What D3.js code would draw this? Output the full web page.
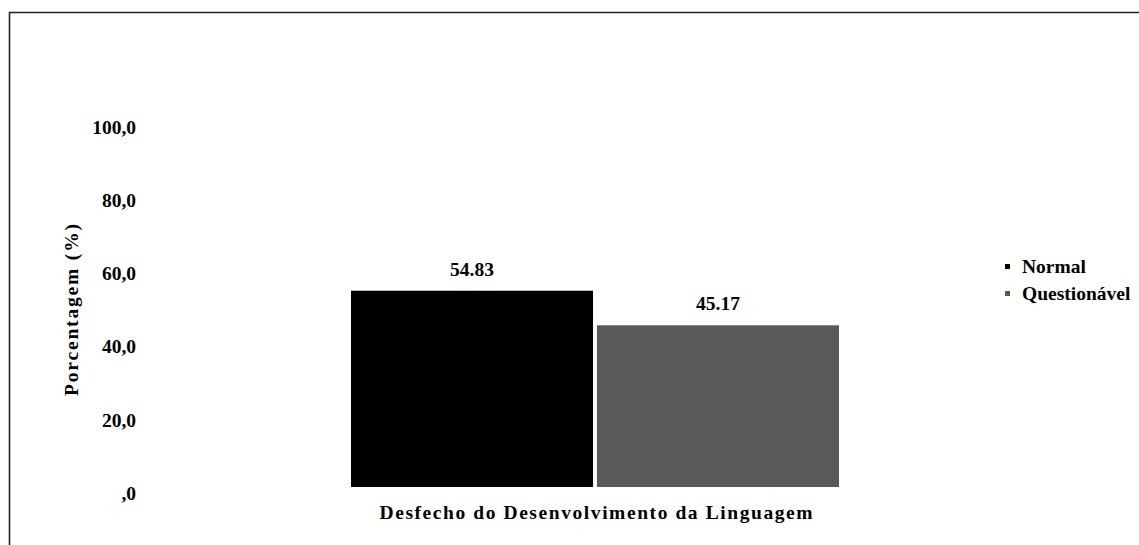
<!DOCTYPE html>
<html>
<head>
<meta charset="utf-8">
<script src="https://cdn.jsdelivr.net/npm/d3@7"></script>
<style>
  body { margin: 0; background: #fff; }
  text { font-family: "Liberation Serif", "Times New Roman", serif; font-weight: bold; fill: #000; }
</style>
</head>
<body>
<script>
const seriesNames = ["Normal", "Questionável"];
const seriesValues = [54.83, 45.17];
const seriesColors = ["#000000", "#595959"];
const yTicks = [0, 20, 40, 60, 80, 100];
const categoryLabel = "Desfecho do Desenvolvimento da Linguagem";
const yTitle = "Porcentagem (%)";

const w = 1139, h = 545;
const fs = 19.5;
const svg = d3.select("body").append("svg").attr("width", w).attr("height", h);

// frame (only top and left edges visible, chart is cropped)
svg.append("path")
    .attr("d", "M9.5," + h + " V12.5 H" + w)
    .attr("fill", "none").attr("stroke", "#222").attr("stroke-width", 1.6);

var yScale = d3.scaleLinear().domain([0, 100]).range([487, 129]);
var xScale = d3.scaleBand().domain(seriesNames).range([351, 839]).paddingInner(0.016);

var yAxis = d3.axisLeft(yScale).tickValues(yTicks).tickSize(0).tickPadding(0)
    .tickFormat(d => d === 0 ? ",0" : d3.format(".1f")(d).replace(".", ","));
var gy = svg.append("g").attr("transform", "translate(136,0)").call(yAxis);
gy.select(".domain").remove();
gy.selectAll("text").attr("font-size", fs).attr("font-family", null).attr("dy", "0.32em")
    .attr("transform", (d, i) => "translate(0," + (6 - i * 1.6) + ")");

svg.append("text")
    .attr("transform", "translate(78,310) rotate(-90)")
    .attr("text-anchor", "middle").attr("font-size", fs)
    .attr("textLength", 172).attr("lengthAdjust", "spacing")
    .text(yTitle);

svg.selectAll("rect.bar")
    .data(seriesValues)
    .enter().append("rect")
    .attr("class", "bar")
    .attr("x", (d, i) => xScale(seriesNames[i]))
    .attr("y", d => yScale(d))
    .attr("width", xScale.bandwidth())
    .attr("height", d => yScale(0) - yScale(d))
    .attr("fill", (d, i) => seriesColors[i]);

svg.selectAll("text.val")
    .data(seriesValues)
    .enter().append("text")
    .attr("class", "val")
    .attr("x", (d, i) => xScale(seriesNames[i]) + xScale.bandwidth() / 2)
    .attr("y", d => yScale(d) - 15)
    .attr("text-anchor", "middle").attr("font-size", fs)
    .text(d => d.toFixed(2));

svg.append("text")
    .attr("x", 596).attr("y", 519)
    .attr("text-anchor", "middle").attr("font-size", fs)
    .attr("textLength", 433).attr("lengthAdjust", "spacing")
    .text(categoryLabel);

var lg = svg.selectAll("g.leg").data(seriesNames).enter().append("g")
    .attr("class", "leg")
    .attr("transform", (d, i) => "translate(1005," + (267 + i * 27) + ")");
lg.append("rect").attr("x", 0).attr("y", -3).attr("width", 5).attr("height", 5)
    .attr("fill", (d, i) => seriesColors[i]);
lg.append("text").attr("x", 17).attr("dy", "0.32em").attr("font-size", fs).text(d => d);
</script>
</body>
</html>
